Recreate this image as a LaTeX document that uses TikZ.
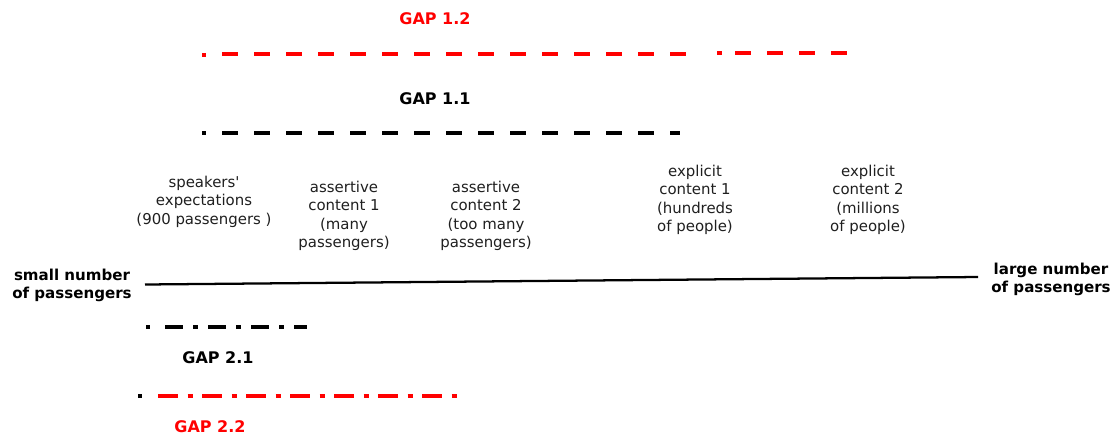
\documentclass[tikz,border=0pt]{standalone}
\usepackage{fontspec}
\setmainfont{DejaVu Sans}[Ligatures=TeXOff]
\definecolor{gapred}{RGB}{255,0,0}
\begin{document}
\begin{tikzpicture}[x=0.75pt,y=-0.75pt,
  txt/.style={font=\fontsize{11.2}{13.9}\selectfont, align=center, anchor=north, inner sep=0pt, text=black!88},
  endlbl/.style={font=\fontsize{11.3}{13.5}\selectfont\bfseries, align=center, anchor=north, inner sep=0pt},
  gaplbl/.style={font=\fontsize{12}{14}\selectfont\bfseries, anchor=base, inner sep=0pt},
  gapline/.style={line width=3pt, line cap=butt},
  dashA/.style={gapline, dash pattern=on 12pt off 12pt},
  dashB/.style={gapline, dash pattern=on 13.5pt off 7.5pt on 3.75pt off 7.5pt},
  dashC/.style={gapline, dash pattern=on 15pt off 7.125pt on 3.75pt off 7.125pt},
  axis/.style={line width=1.7pt}
]
\useasboundingbox (0,0) rectangle (1120,437);

% labels
\node[gaplbl, text=gapred] (g12) at (435,24.5) {GAP 1.2};
\node[gaplbl] (g11) at (435,104.5) {GAP 1.1};
\node[gaplbl] (g21) at (218,363) {GAP 2.1};
\node[gaplbl, text=gapred] (g22) at (210,432) {GAP 2.2};

\node[txt] (se) at (204,174) {\strut speakers'\\expectations\\(900 passengers )};
\node[txt] (ac1) at (344,179) {\strut assertive\\content 1\\(many\\passengers)};
\node[txt] (ac2) at (486,179) {\strut assertive\\content 2\\(too many\\passengers)};
\node[txt] (ec1) at (695,163) {\strut explicit\\content 1\\(hundreds\\of people)};
\node[txt] (ec2) at (868,163) {\strut explicit\\content 2\\(millions\\of people)};

\node[endlbl] (small) at (72,267.9) {\strut small number\\of passengers};
\node[endlbl] (large) at (1051,261.4) {\strut large number\\of passengers};

% axis
\coordinate (axL) at (145,284.5);
\coordinate (axR) at (978,277);
\draw[axis] (axL) -- (axR);

% GAP 1.2 line (red)
\coordinate (r1a) at (202,54.5); \coordinate (r1b) at (206,54.5);
\coordinate (r1c) at (222,54);   \coordinate (r1d) at (686,54);
\coordinate (r1e) at (717,52.5); \coordinate (r1f) at (722,52.5);
\coordinate (r1g) at (735,52.5); \coordinate (r1h) at (847,52.5);
\draw[gapline, gapred] (r1a) -- (r1b);
\draw[dashA, gapred] (r1c) -- (r1d);
\draw[gapline, gapred] (r1e) -- (r1f);
\draw[dashA, gapred] (r1g) -- (r1h);

% GAP 1.1 line (black)
\coordinate (b1a) at (202,133); \coordinate (b1b) at (206,133);
\coordinate (b1c) at (222,133); \coordinate (b1d) at (680,133);
\draw[gapline] (b1a) -- (b1b);
\draw[dashA] (b1c) -- (b1d);

% GAP 2.1 line (black)
\coordinate (b2a) at (146,327); \coordinate (b2b) at (150,327);
\coordinate (b2c) at (165,327); \coordinate (b2d) at (307,327);
\draw[gapline] (b2a) -- (b2b);
\draw[dashB] (b2c) -- (b2d);

% GAP 2.2 line (red, black dot)
\coordinate (r2a) at (138,396); \coordinate (r2b) at (142,396);
\coordinate (r2c) at (158,396); \coordinate (r2d) at (457,396);
\draw[gapline] (r2a) -- (r2b);
\draw[dashC, gapred] (r2c) -- (r2d);
\end{tikzpicture}
\end{document}
